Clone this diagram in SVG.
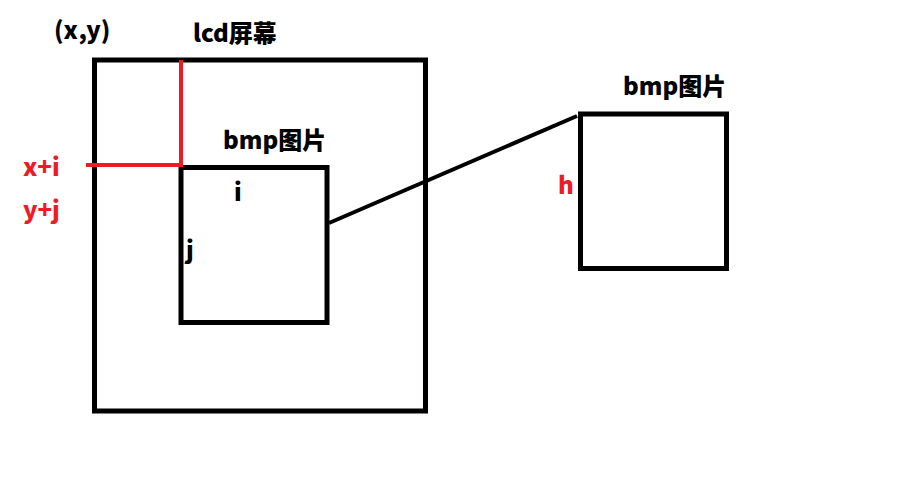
<svg xmlns="http://www.w3.org/2000/svg" width="900" height="480" viewBox="0 0 900 480">
<style>
.box{fill:none;stroke:#000;stroke-width:5}
.t{font-family:"Noto Sans CJK SC","Noto Sans","DejaVu Sans",sans-serif;font-weight:900;font-size:24px;fill:#000}
.r{fill:#ed1c24}
</style>
<rect width="900" height="480" fill="#fff"/>
<g id="lcd">
<rect class="box" x="94.5" y="60" width="331" height="351"/>
<text class="t" x="193" y="42">lcd屏幕</text>
</g>
<g id="bmp-inner">
<rect class="box" x="181" y="167.5" width="146" height="155"/>
<text class="t" x="223" y="149">bmp图片</text>
<text class="t" x="234" y="201">i</text>
<text class="t" x="186" y="259">j</text>
</g>
<g id="bmp-right">
<rect class="box" x="580.5" y="114" width="146" height="154.5"/>
<text class="t" x="623" y="95">bmp图片</text>
<text class="t r" x="558" y="194">h</text>
</g>
<g id="labels">
<text class="t" x="54" y="39">(x,y)</text>
<text class="t r" x="23" y="176">x+i</text>
<text class="t r" x="23" y="219">y+j</text>
</g>
<g id="connectors">
<line x1="181" y1="60" x2="181" y2="166" stroke="#ed1c24" stroke-width="4"/>
<line x1="86" y1="165" x2="183" y2="165" stroke="#ed1c24" stroke-width="4"/>
<line x1="329" y1="223" x2="577" y2="116" stroke="#000" stroke-width="4"/>
</g>
</svg>
